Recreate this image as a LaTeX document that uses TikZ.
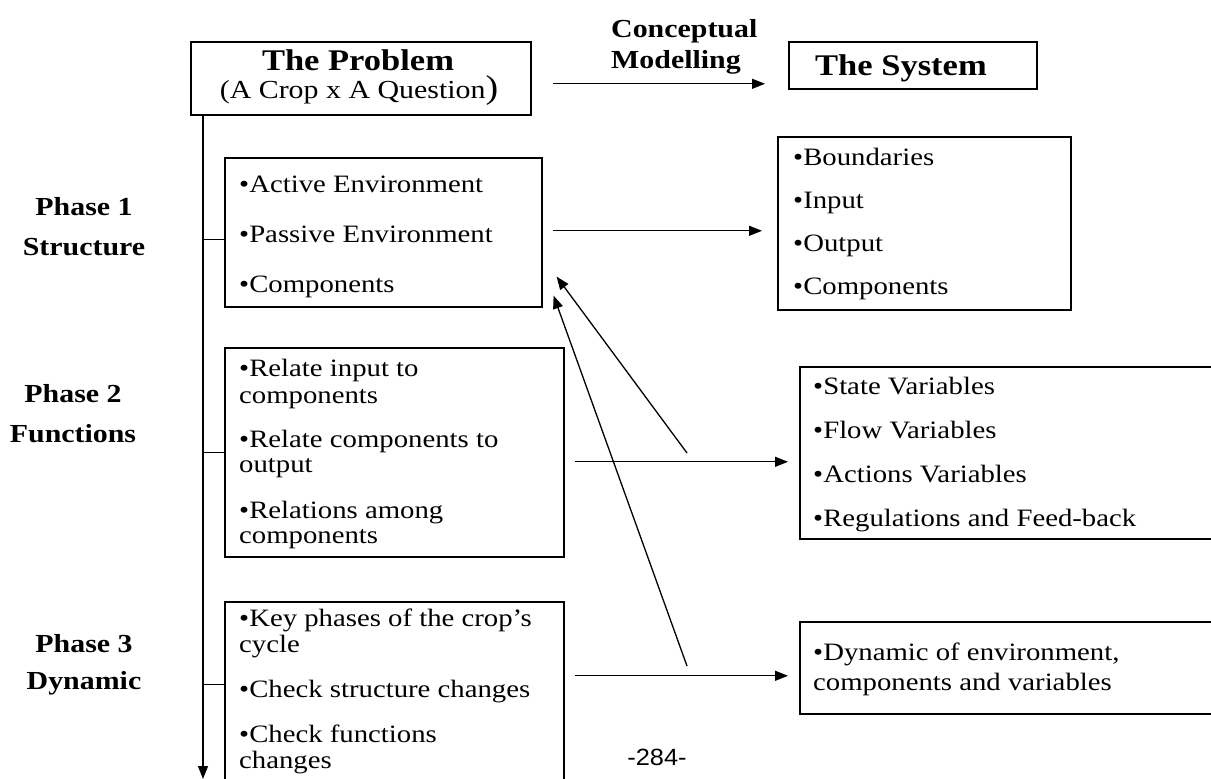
\documentclass[tikz,border=0pt]{standalone}
\usepackage{fontspec}
\setmainfont{Liberation Serif}[FakeStretch=1.15]
\newfontfamily\pagefont{Liberation Sans}[FakeStretch=1.08]
\usetikzlibrary{arrows.meta,calc}
\newcommand{\bodysz}{\fontsize{25}{26}\selectfont}
\newcommand{\labsz}{\fontsize{26}{27}\selectfont\bfseries}
\tikzset{
  box/.style={draw, line width=1.6pt, inner sep=0pt, anchor=north west},
  txt/.style={inner sep=0pt, anchor=base west, font=\bodysz},
  lab/.style={inner sep=0pt, anchor=base, font=\labsz},
  conn/.style={line width=1.3pt},
  arr/.style={line width=1.3pt, -{Triangle[length=13pt,width=10pt]}}
}
\begin{document}
\begin{tikzpicture}[x=1pt,y=-1pt]
\useasboundingbox (0,0) rectangle (1211,779);
\fill[white] (0,0) rectangle (1211,779);
\begin{scope}
\clip (0,0) rectangle (1211,779);
% boxes
\node[box, minimum width=340pt, minimum height=73pt] (prob) at (190,41) {};
\node[box, minimum width=248pt, minimum height=47pt] (sys) at (788,41) {};
\node[box, minimum width=317pt, minimum height=149pt] (p1) at (224,157) {};
\node[box, minimum width=293pt, minimum height=173pt] (bnd) at (777,136) {};
\node[box, minimum width=339pt, minimum height=209pt] (p2) at (224,347) {};
\node[box, minimum width=440pt, minimum height=172pt] (st) at (799,366) {};
\node[box, minimum width=339pt, minimum height=200pt] (p3) at (224,601) {};
\node[box, minimum width=440pt, minimum height=92pt] (dyn) at (799,621) {};

% top texts
\node[lab, font=\fontsize{30}{31}\selectfont\bfseries] (tprob) at (358,70) {The Problem};
\node[inner sep=0pt, anchor=base, font=\fontsize{26}{27}\selectfont] (tq) at (359,98) {(A Crop x A Question{\fontsize{33}{33}\selectfont)}};
\node[inner sep=0pt, anchor=base west, font=\labsz] (tc1) at (611,37) {Conceptual};
\node[inner sep=0pt, anchor=base west, font=\labsz] (tc2) at (611,68) {Modelling};
\node[lab, font=\fontsize{30}{31}\selectfont\bfseries] (tsys) at (901,75) {The System};

% phase labels
\node[lab] (ph1) at (84,215) {Phase 1};
\node[lab] (ph1b) at (84,255) {Structure};
\node[lab] (ph2) at (73,402) {Phase 2};
\node[lab] (ph2b) at (73,442) {Functions};
\node[lab] (ph3) at (84,652) {Phase 3};
\node[lab] (ph3b) at (84,689) {Dynamic};

% phase 1 texts
\node[txt] (p1a) at (239,192) {•Active Environment};
\node[txt] (p1b) at (239,242) {•Passive Environment};
\node[txt] (p1c) at (239,292) {•Components};

% boundaries texts
\node[txt] (b1) at (793,165) {•Boundaries};
\node[txt] (b2) at (793,208) {•Input};
\node[txt] (b3) at (793,251) {•Output};
\node[txt] (b4) at (793,294) {•Components};

% phase 2 texts
\node[txt] (p2a) at (239,376) {•Relate input to};
\node[txt] (p2b) at (239,403) {components};
\node[txt] (p2c) at (239,447) {•Relate components to};
\node[txt] (p2d) at (239,472) {output};
\node[txt] (p2e) at (239,518) {•Relations among};
\node[txt] (p2f) at (239,543) {components};

% state texts
\node[txt] (s1) at (813,394) {•State Variables};
\node[txt] (s2) at (813,438) {•Flow Variables};
\node[txt] (s3) at (813,482) {•Actions Variables};
\node[txt] (s4) at (813,526) {•Regulations and Feed-back};

% phase 3 texts
\node[txt] (p3a) at (239,626) {•Key phases of the crop’s};
\node[txt] (p3b) at (239,652) {cycle};
\node[txt] (p3c) at (239,697) {•Check structure changes};
\node[txt] (p3d) at (239,742) {•Check functions};
\node[txt] (p3e) at (239,768) {changes};

% dynamic texts
\node[txt] (d1) at (813,660) {•Dynamic of environment,};
\node[txt] (d2) at (813,690) {components and variables};

% page number
\node[inner sep=0pt, anchor=base, font=\pagefont\fontsize{23.5}{24}\selectfont] (pg) at (657,765) {-284-};

% connectors
\coordinate (vend) at (203,779);
\coordinate (fb1) at (687,453);
\coordinate (fb2) at (687,666);
\draw[arr] (prob.south -| vend) -- (vend);
\draw[conn] ($(p1.west)+(-21,7.5)$) -- ($(p1.west)+(0,7.5)$);
\draw[conn] ($(p2.west)+(-21,0.5)$) -- ($(p2.west)+(0,0.5)$);
\draw[conn] ($(p3.west)+(-21,-17)$) -- ($(p3.west)+(0,-17)$);

\draw[arr] ($(prob.east)+(21,5.5)$) -- ($(prob.east -| sys.west)+(-23,5.5)$);
\draw[arr] ($(p1.east)+(10,-1.5)$) -- ($(p1.east -| bnd.west)+(-15,-1.5)$);
\draw[arr] ($(p2.east)+(10,9.5)$) -- ($(p2.east -| st.west)+(-11,9.5)$);
\draw[arr] ($(p3.east |- dyn.west)+(10,8)$) -- ($(dyn.west)+(-11,8)$);

\draw[arr] (fb1) -- ($(p1.south east)+(14,-31)$);
\draw[arr] (fb2) -- ($(p1.south east)+(11,-12)$);
\end{scope}
\end{tikzpicture}
\end{document}
